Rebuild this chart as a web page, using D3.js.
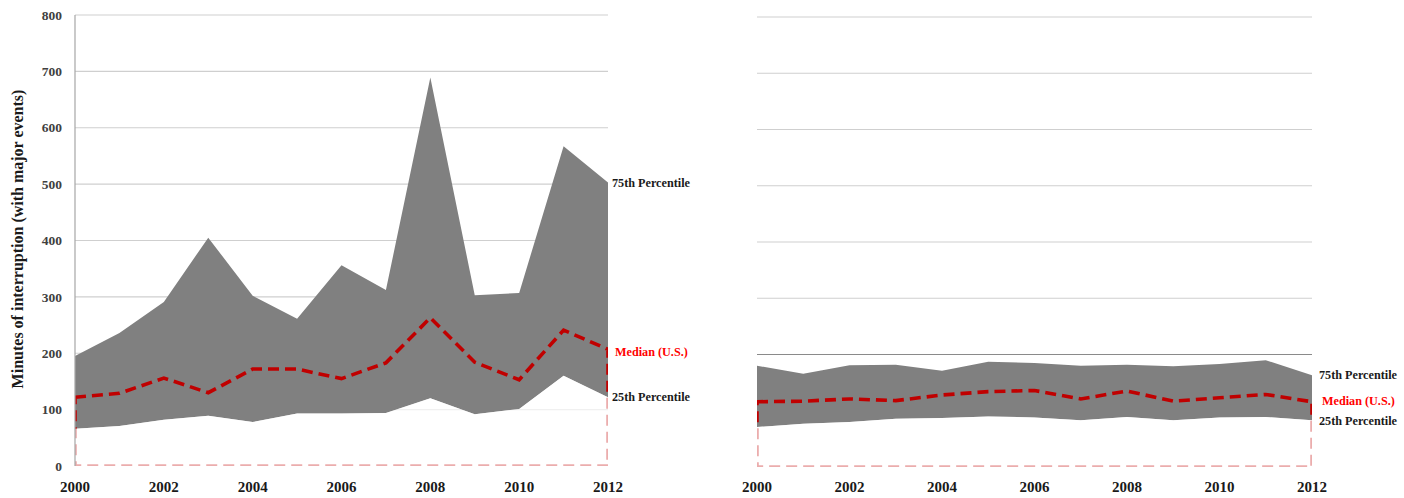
<!DOCTYPE html>
<html>
<head>
<meta charset="utf-8">
<script src="https://cdn.jsdelivr.net/npm/d3@7"></script>
<style>
  html, body { margin: 0; padding: 0; background: #fff; }
  svg { display: block; }
  text { font-family: "Liberation Serif", "Times New Roman", serif; font-weight: bold; }
</style>
</head>
<body>
<svg id="chart" width="1404" height="498"></svg>
<script>
// Years on the x axis
const years = [2000, 2001, 2002, 2003, 2004, 2005, 2006, 2007, 2008, 2009, 2010, 2011, 2012];
const yearTicks = [2000, 2002, 2004, 2006, 2008, 2010, 2012];
const valueTicks = [0, 100, 200, 300, 400, 500, 600, 700, 800];

// Minutes of interruption, with major events
const withP75 = [195, 236, 291, 405, 302, 261, 356, 312, 689, 303, 307, 567, 503];
const withMedian = [122, 129, 156, 130, 172, 172, 155, 183, 263, 184, 153, 241, 207];
const withP25 = [66, 71, 82, 89, 78, 93, 93, 94, 120, 92, 101, 160, 122];

// Minutes of interruption, without major events
const withoutP75 = [180, 166, 181, 182, 171, 187, 185, 180, 182, 179, 183, 190, 163];
const withoutMedian = [116, 117, 121, 118, 128, 134, 136, 121, 135, 117, 123, 129, 116];
const withoutP25 = [71, 77, 80, 86, 87, 90, 88, 83, 89, 83, 88, 89, 83];

const labels = ["75th Percentile", "Median (U.S.)", "25th Percentile"];

const svg = d3.select("#chart");

const panels = [
  { x0: 75, x1: 608, y0: 466, y1: 15, p75: withP75, med: withMedian, p25: withP25,
    yAxis: true, labelX: 612, labelDy: [0, 2, 0], darkGrid: null },
  { x0: 757, x1: 1312, y0: 467, y1: 17, p75: withoutP75, med: withoutMedian, p25: withoutP25,
    yAxis: false, labelX: 1319, labelDy: [-1, -1, 0], darkGrid: 200 }
];

panels.forEach((p, i) => {
  const x = d3.scaleLinear().domain([2000, 2012]).range([p.x0, p.x1]);
  const y = d3.scaleLinear().domain([0, 800]).range([p.y0, p.y1]);
  const g = svg.append("g");
  const xi = (d, j) => x(years[j]);

  // Horizontal gridlines
  g.selectAll("line.grid")
    .data(valueTicks.filter(v => v > 0))
    .join("line")
    .attr("class", "grid")
    .attr("x1", p.x0).attr("x2", p.x1)
    .attr("y1", d => y(d)).attr("y2", d => y(d))
    .attr("stroke", d => d === p.darkGrid ? "#8a8a8a" : "#cfcfcf")
    .attr("stroke-width", 1.2);

  // Grey band between the 25th and 75th percentiles
  g.append("path")
    .datum(years.map((yr, j) => [p.p25[j], p.p75[j]]))
    .attr("d", d3.area().x(xi).y0(d => y(d[0])).y1(d => y(d[1])))
    .attr("fill", "#808080");

  // Median outline, clipped to the plot rectangle
  const clipId = "clip" + i;
  svg.append("defs").append("clipPath").attr("id", clipId)
    .append("rect")
    .attr("x", p.x0).attr("y", p.y1)
    .attr("width", p.x1 - p.x0).attr("height", p.y0 - p.y1);

  g.append("path")
    .datum(p.med)
    .attr("d", d3.area().x(xi).y0(y(0)).y1(d => y(d)))
    .attr("clip-path", `url(#${clipId})`)
    .attr("fill", "none")
    .attr("stroke", "#c00000")
    .attr("stroke-width", 3.6)
    .attr("stroke-dasharray", "11,6");

  // Region below the 25th percentile, washed white
  g.append("path")
    .datum(p.p25)
    .attr("d", d3.area().x(xi).y0(y(0)).y1(d => y(d)))
    .attr("fill", "#ffffff")
    .attr("fill-opacity", 0.68);

  // Y axis line and labels (first panel only)
  if (p.yAxis) {
    g.append("line")
      .attr("x1", p.x0).attr("x2", p.x0)
      .attr("y1", y(800)).attr("y2", y(0))
      .attr("stroke", "#a6a6a6").attr("stroke-width", 1.2);
    g.selectAll("text.ytick")
      .data(valueTicks)
      .join("text")
      .attr("class", "ytick")
      .attr("x", 62)
      .attr("y", d => y(d))
      .attr("dy", "0.35em")
      .attr("text-anchor", "end")
      .attr("font-size", 13.5)
      .attr("fill", "#404040")
      .text(d => d);
    svg.append("text")
      .attr("transform", `translate(23,239) rotate(-90)`)
      .attr("text-anchor", "middle")
      .attr("font-size", 16)
      .attr("fill", "#1a1a1a")
      .text("Minutes of interruption (with major events)");
  }

  // Year labels
  g.selectAll("text.xtick")
    .data(yearTicks)
    .join("text")
    .attr("class", "xtick")
    .attr("x", d => x(d))
    .attr("y", 492)
    .attr("text-anchor", "middle")
    .attr("font-size", 15)
    .attr("fill", "#1a1a1a")
    .text(d => d);

  // Series labels at the right end
  const last = years.length - 1;
  const ends = [p.p75[last], p.med[last], p.p25[last]];
  g.selectAll("text.series")
    .data(labels)
    .join("text")
    .attr("class", "series")
    .attr("x", (d, j) => p.labelX + (j === 1 ? 3 : 0))
    .attr("y", (d, j) => y(ends[j]) + p.labelDy[j])
    .attr("dy", "0.35em")
    .attr("font-size", 12.2)
    .attr("fill", (d, j) => j === 1 ? "#ff0000" : "#1a1a1a")
    .text(d => d);
});
</script>
</body>
</html>
